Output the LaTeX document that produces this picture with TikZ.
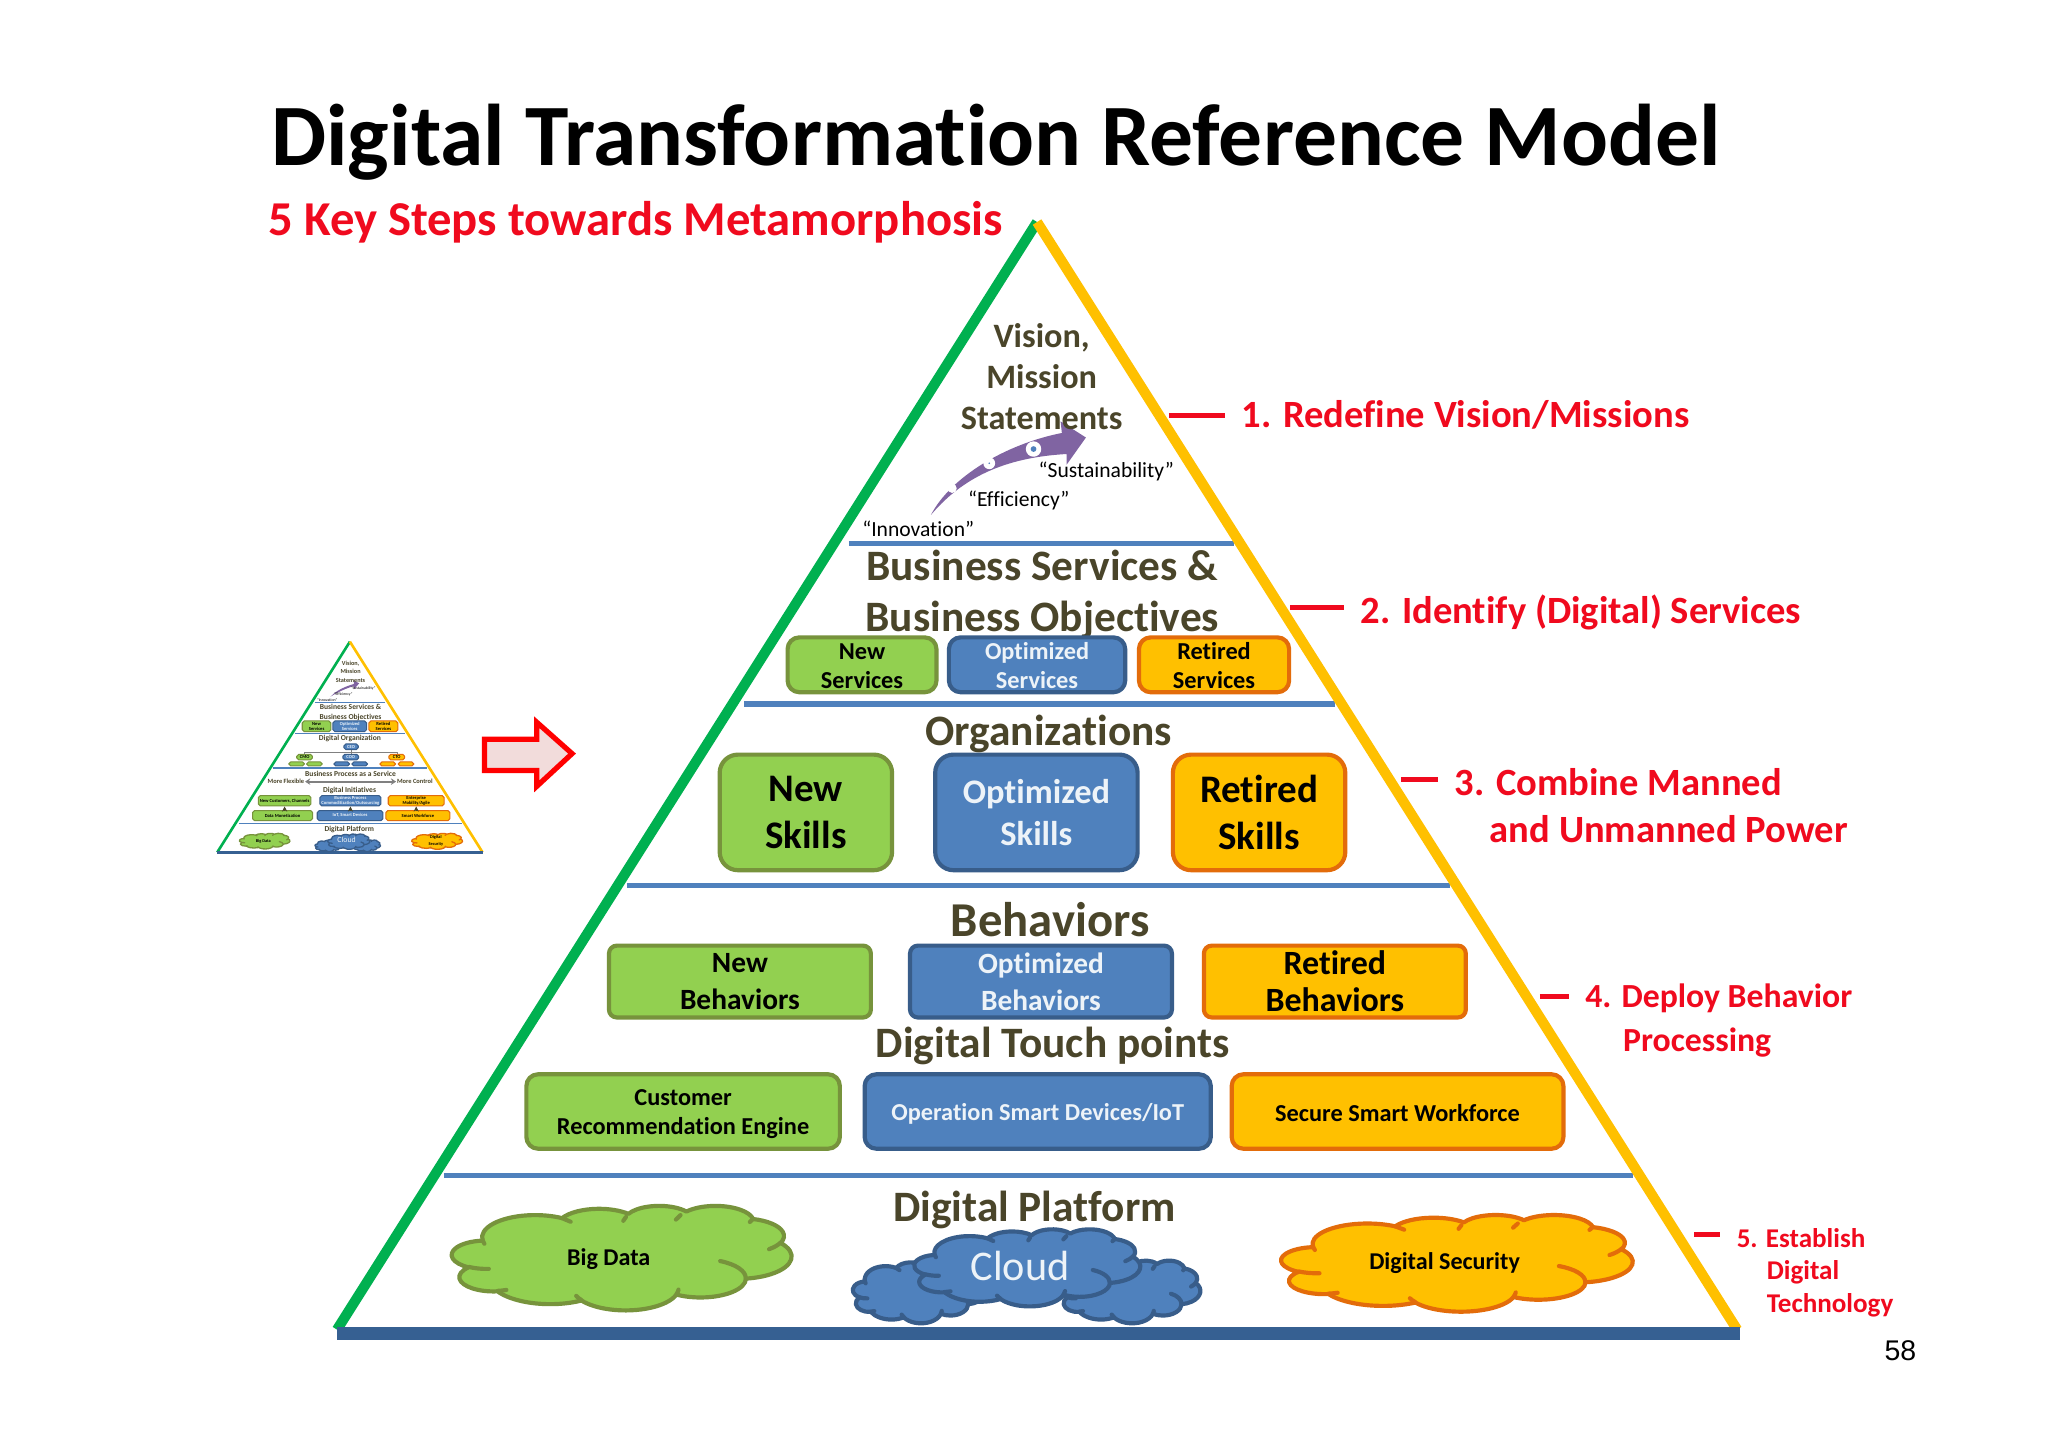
\documentclass[tikz,border=0pt]{standalone}
\usepackage{fontspec}
\usetikzlibrary{arrows.meta}
\setmainfont{Carlito}[Ligatures=NoCommon]
\newfontfamily\arialfont{Liberation Sans}
\definecolor{newgreen}{HTML}{92D050}
\definecolor{newedge}{HTML}{77933C}
\definecolor{optblue}{HTML}{4F81BD}
\definecolor{optedge}{HTML}{385D8A}
\definecolor{retgold}{HTML}{FFC000}
\definecolor{retedge}{HTML}{E36C0A}
\definecolor{headtext}{HTML}{4A452A}
\definecolor{sidegreen}{HTML}{00B050}
\definecolor{baseblue}{HTML}{366092}
\definecolor{arrowpurple}{HTML}{8064A2}
\definecolor{steprred}{HTML}{F00A1E}
\definecolor{arrowpink}{HTML}{F2DCDB}
\newcommand{\fsz}[2]{\fontsize{#1}{#2}\selectfont}
\newcommand{\cloudarc}[4]{\pgfextra{%
	\pgfmathsetmacro\cas{atan2(#1*sin(#3),#2*cos(#3))}%
	\pgfmathsetmacro\cae{atan2(#1*sin(#3+#4),#2*cos(#3+#4))}%
	\pgfmathsetmacro\cae{\cae<\cas?\cae+360:\cae}}%
	arc[start angle=\cas,end angle=\cae,x radius=#1,y radius=#2]}
\newcommand{\cloudinner}[6]{(#1,#2) \cloudarc{#3}{#4}{#5}{#6}}
\newcommand{\pptcloud}[5]{%
	\begin{scope}[shift={(#1,#2)},xscale=#3/432,yscale=#4/432]
		\draw[#5,line join=round] (39,143.7)
			\cloudarc{67.53}{91.9}{-190.487}{123.781}
			\cloudarc{53.33}{72.67}{-144.102}{89.945}
			\cloudarc{43.65}{59.45}{-145.808}{99.723}
			\cloudarc{48.57}{65.95}{-130.986}{117.242}
			\cloudarc{53.33}{72.73}{-78.709}{109.027}
			\cloudarc{67.75}{92.2}{-46.267}{130.269}
			\cloudarc{57.85}{78.67}{0.625}{114.033}
			\cloudarc{67.52}{92.15}{22.452}{115.173}
			\cloudarc{77.2}{105.43}{66.243}{75.711}
			\cloudarc{43.6}{59.18}{-274.942}{146.736}
			\cloudarc{43.45}{59.45}{-246.829}{152.519}
			-- cycle;
		\draw[#5,fill=none,line cap=round]
			\cloudinner{46.93}{261.77}{43.45}{59.45}{86.742}{26.43}
			\cloudinner{69.28}{348.99}{43.6}{59.18}{73.611}{11.447}
			\cloudinner{164.78}{390.9}{67.52}{92.15}{137.624}{14.081}
			\cloudinner{288.27}{347.51}{67.52}{92.15}{6.453}{15.998}
			\cloudinner{341.29}{229.54}{57.85}{78.67}{-70.292}{70.917}
			\cloudinner{417.98}{153.54}{53.33}{72.73}{30.318}{27.752}
			(383.24,54.26) -- (379,68) (290.78,39.52) -- (285,58)
			(221.41,47.2) -- (218,63) (140,51.92) -- (151,67)
			(41.27,157.89) -- (39,143.7);
	\end{scope}}
\tikzset{
	mainbox/.style={rounded corners=.9mm,line width=.32mm,inner sep=0,align=center},
	newcol/.style={fill=newgreen,draw=newedge,text=black},
	optcol/.style={fill=optblue,draw=optedge,text=white!90!optblue},
	retcol/.style={fill=retgold,draw=retedge,text=black},
	headline/.style={text=headtext,align=center,inner sep=0,font=\bfseries\fsz{9.45}{11}},
	steplabel/.style={text=steprred,anchor=west,inner ysep=0,inner xsep=1.2mm},
	steptick/.style={draw=steprred,line width=.35mm,line cap=butt},
	quote/.style={text=black,inner sep=0,font=\fsz{4.7}{5}},
	tbox/.style={rounded corners=.15mm,line width=.08mm,inner sep=0,align=center,font=\bfseries\fsz{1}{1.2}},
	thead/.style={text=headtext,inner sep=0,align=center,font=\bfseries\fsz{1.65}{2}},
	tsmall/.style={text=headtext,inner sep=0,font=\bfseries\fsz{1.4}{1.6}},
	tarrow/.style={-{Stealth[length=.4mm,width=.4mm]},headtext,line width=.05mm},
	cloudlabel/.style={text=black,inner sep=0,font=\bfseries\fsz{5.25}{6}},
}
\begin{document}
\begin{tikzpicture}[x=.1mm,y=-.1mm,line join=round,>=stealth]
	\useasboundingbox[fill=white] (0,0) rectangle (1568,1108.6);
	\path
	(794,170) coordinate (apex)
	(258,1018) coordinate (left)
	(1330,1018) coordinate (right)
	;
	\node[anchor=west,inner sep=0,font=\bfseries\fsz{19.07}{20}] (title) at (207,109) {Digital Transformation Reference Model};
	\node[anchor=west,inner sep=0,text=steprred,font=\bfseries\fsz{10.6}{12}] (subtitle) at (205,170) {5 Key Steps towards Metamorphosis};
	% levels
	\foreach \y/\l/\r in {416/650/945,539/570/1022,678/480/1110,900/340/1250}
	\draw[optblue,line width=.4mm,line cap=butt] (\l,\y)--(\r,\y);
	\draw[sidegreen,line width=.78mm] (left)--(apex);
	\draw[retgold,line width=.78mm] (apex)--(right);
	\draw[baseblue,line width=1mm,line cap=butt] (258,1021)--(1332,1021);
	% arrow of the top level
	\fill[arrowpurple] (712.7,394.3) .. controls (728,365) and (770,340) .. (813,331.5)
	--(812,322.6)--(831.4,335)--(816.7,355.7)--(816.7,347.6)
	.. controls (775,350) and (740,362) .. (712.7,394.3);
	\foreach \x/\y/\g/\d in {729/373.9/3.5/0,757.4/354.7/4.5/.7,791.3/343.8/5.9/2.2}{
		\fill[white] (\x,\y) circle (\g);
		\fill[optblue] (\x,\y) circle (\d);
	}
	\node[headline,font=\bfseries\fsz{7.45}{9}] (vision) at (797.5,288.5) {Vision,\\Mission\\Statements};
	\node[quote] (innov) at (703,405) {“Innovation”};
	\node[quote] (effic) at (780,383) {“Efficiency”};
	\node[quote] (sustain) at (847,361) {“Sustainability”};
	% level titles
	\node[headline] (bservices) at (798,455) {Business Services \&\\Business Objectives};
	\node[headline] (orgs) at (803,562) {Organizations};
	\node[headline,font=\bfseries\fsz{10.6}{11}] (behav) at (804,704) {Behaviors};
	\node[headline] (touch) at (806,801) {Digital Touch points};
	\node[headline] (platform) at (792,926) {Digital Platform};
	% boxes
	\foreach \n/\col/\x/\w/\txt in {svcnew/newcol/660/11.4/{New\\Services},svcopt/optcol/794/13.5/{Optimized\\Services},svcret/retcol/929.5/11.5/{Retired\\Services}}
	\node[mainbox,\col,minimum width=\w mm,minimum height=4.2mm,font=\bfseries\fsz{5.3}{6.3}] (\n) at (\x,509) {\rule{0pt}{4.2pt}\txt};
	\foreach \n/\col/\x/\w/\s/\b/\txt in {sklnew/newcol/617/13.2/8.5/10.3/{New\\Skills},sklopt/optcol/793.5/15.5/7.5/9/{Optimized\\Skills},sklret/retcol/964/13.2/8.5/10.3/{Retired\\Skills}}
	\node[mainbox,\col,rounded corners=1.4mm,minimum width=\w mm,minimum height=8.85mm,font=\bfseries\fsz{\s}{\b}] (\n) at (\x,622) {\txt};
	\foreach \n/\col/\x/\s/\txt in {behnew/newcol/566.5/6.4/{New\\Behaviors},behopt/optcol/797/6.4/{Optimized\\Behaviors},behret/retcol/1022/7.4/{Retired\\Behaviors}}
	\node[mainbox,\col,rounded corners=.6mm,minimum width=20.05mm,minimum height=5.5mm,font=\bfseries\fsz{\s}{8}] (\n) at (\x,751.5) {\txt};
	\foreach \n/\col/\x/\w/\txt in {tchnew/newcol/523/24/{Customer\\Recommendation Engine},tchopt/optcol/794.5/26.5/{Operation Smart Devices/IoT},tchret/retcol/1070/25.4/{Secure Smart Workforce}}
	\node[mainbox,\col,minimum width=\w mm,minimum height=5.7mm,font=\bfseries\fsz{5.3}{6.3}] (\n) at (\x,851) {\rule{0pt}{4.6pt}\txt};
	% clouds
	\pptcloud{346}{923}{260}{80}{fill=newgreen,draw=newedge,line width=.32mm}
	\pptcloud{653}{965}{102}{48}{fill=optblue,draw=optedge,line width=.32mm}
	\pptcloud{812}{965}{107}{48}{fill=optblue,draw=optedge,line width=.32mm}
	\pptcloud{700}{941}{173}{59}{fill=optblue,draw=optedge,line width=.32mm}
	\pptcloud{981}{930}{269}{74}{fill=retgold,draw=retedge,line width=.32mm}
	\node[cloudlabel] (bigdata) at (466,964) {Big Data};
	\node[cloudlabel,text=white!90!optblue,font=\fsz{9.2}{11}] (cloud) at (781,969) {Cloud};
	\node[cloudlabel] (security) at (1106,967) {Digital Security};
	% steps
	\foreach \n/\x/\y/\f/\txt in {stepa/938/318/8.4/{1. Redefine Vision/Missions},stepb/1029/469/8.4/{2. Identify (Digital) Services},stepc/1101/599/8.4/{3. Combine Manned},stepcc/1128/635/8.4/{and Unmanned Power},stepd/1201/764/7.35/{4. Deploy Behavior},stepdd/1230/798/7.35/{Processing},stepe/1317/948/5.9/{5. Establish},stepee/1340/974/5.9/{Digital},stepeee/1340/999/5.9/{Technology}}
	\node[steplabel,font=\bfseries\fsz{\f}{9}] (\n) at (\x,\y) {\txt};
	\foreach \n/\x/\y in {stepa/895/318,stepb/988/465,stepc/1073/597,stepd/1179/763,stepe/1297/945}{
		\coordinate (tick\n) at (\x,\y);
		\draw[steptick] (tick\n)--(tick\n -| \n.west);
	}
	\node[inner sep=0,font=\arialfont\fsz{6.2}{7}] (pagenum) at (1455,1034) {58};
	% red arrow
	\draw[red,fill=arrowpink,line width=.4mm,line join=miter] (371,566)--(411,566)--(411,553)--(438,577)--(411,602)--(411,590)--(371,590)--cycle;
	% small copy of the pyramid
	\begin{scope}[shift={(153.1,474.7)},x=.02552mm,y=-.02552mm]
		\foreach \y/\l/\r in {247/345/555,341/285/615,444/220/680,610/118/785}
		\draw[optblue,line width=.1mm,line cap=butt] (\l,\y)--(\r,\y);
		\path (450,65) coordinate (tapex) (52,697) coordinate (tleft) (848,697) coordinate (tright);
		\draw[sidegreen,line width=.2mm] (tleft)--(tapex);
		\draw[retgold,line width=.2mm] (tapex)--(tright);
		\draw[baseblue,line width=.25mm,line cap=butt] (tleft)--(tright);
		\fill[arrowpurple] (392,230) .. controls (410,210) and (440,198) .. (462,192)--(462,182)--(478,190)--(462,208)--(462,198) .. controls (440,205) and (415,215) .. (392,230);
		\node[thead,font=\bfseries\fsz{1.35}{1.85}] (tvision) at (452,155) {Vision,\\Mission\\Statements};
		\foreach \n/\x/\y/\txt in {tinnov/382/241/“Innovation”,teffic/430/223/“Efficiency”,tsustain/490/205/“Sustainability”}
		\node[inner sep=0,font=\fsz{.85}{1}] (\n) at (\x,\y) {\txt};
		\foreach \n/\x/\y/\txt in {tbserv/452/262/{Business Services \&},tbobj/452/292/{Business Objectives},torg/450/355/{Digital Organization},tproc/452/462/{Business Process as a Service},tinit/449/512/{Digital Initiatives},tplat/448/628/{Digital Platform}}
		\node[thead] (\n) at (\x,\y) {\txt};
		\foreach \n/\col/\x/\w/\txt in {tsvcnew/newcol/350/86/{New\\Services},tsvcopt/optcol/449.5/101/{Optimized\\Services},tsvcret/retcol/550.5/87/{Retired\\Services}}
		\node[tbox,\col,minimum width=\w*.02552mm,minimum height=32*.02552mm] (\n) at (\x,319) {\txt};
		\node[tbox,optcol,minimum width=43*.02552mm,minimum height=17*.02552mm] (tceo) at (453.5,380.5) {CEO};
		\foreach \n/\col/\x/\txt in {tcmo/newcol/314/CMO,tcoo/optcol/452.5/COO,tcto/retcol/590.5/CTO}{
			\node[tbox,\col,minimum width=47*.02552mm,minimum height=17*.02552mm] (\n) at (\x,411.5) {\txt};
			\draw[gray,line width=.03mm] (tceo.south) -- ++(0,5) -| (\n.north);
		}
		\foreach \n/\col/\x in {tna/newcol/290,tnb/newcol/343.5,toa/optcol/425.5,tob/optcol/479.5,tra/retcol/563.5,trb/retcol/618.5}
		\node[tbox,\col,minimum width=47*.02552mm,minimum height=12*.02552mm] (\n) at (\x,432) {};
		\node[tsmall] (tflex) at (258,485) {More Flexible};
		\node[tsmall] (tctrl) at (645,485) {More Control};
		\draw[{Stealth[length=.4mm,width=.5mm]}-{Stealth[length=.4mm,width=.5mm]},gray,line width=.15mm] (tflex.east)--(tctrl.west);
		\foreach \n/\col/\x/\w/\txt in {tcust/newcol/254/158/{New Customers, Channels},tbproc/optcol/451.5/183/{Business Process\\Commoditization/Outsourcing},tent/retcol/649/168/{Enterprise\\Mobility/Agile}}
		\node[tbox,\col,minimum width=\w*.02552mm,minimum height=31*.02552mm] (\n) at (\x,542.5) {\txt};
		\foreach \n/\up/\col/\x/\w/\txt in {tdata/tcust/newcol/248/180/{Data Monetization},tiot/tbproc/optcol/450.5/197/{IoT, Smart Devices},tsmart/tent/retcol/654/192/{Smart Workforce}}{
			\node[tbox,\col,minimum width=\w*.02552mm,minimum height=30*.02552mm] (\n) at (\x,587) {\txt};
			\draw[tarrow] (\n.north -| \up.south)--(\up.south);
		}
		\pptcloud{118}{640}{152}{47}{fill=newgreen,draw=newedge,line width=.1mm}
		\pptcloud{345}{660}{85}{35}{fill=optblue,draw=optedge,line width=.1mm}
		\pptcloud{460}{660}{82}{35}{fill=optblue,draw=optedge,line width=.1mm}
		\pptcloud{383}{642}{127}{46}{fill=optblue,draw=optedge,line width=.1mm}
		\pptcloud{635}{640}{153}{48}{fill=retgold,draw=retedge,line width=.1mm}
		\node[cloudlabel,font=\bfseries\fsz{.95}{1.2}] (tbig) at (190,663) {Big Data};
		\node[cloudlabel,text=white!90!optblue,font=\fsz{1.7}{2}] (tcloud) at (440,661) {Cloud};
		\node[cloudlabel,align=center,font=\bfseries\fsz{.95}{1.4}] (tsec) at (708,663) {Digital\\Security};
	\end{scope}
\end{tikzpicture}
\end{document}
